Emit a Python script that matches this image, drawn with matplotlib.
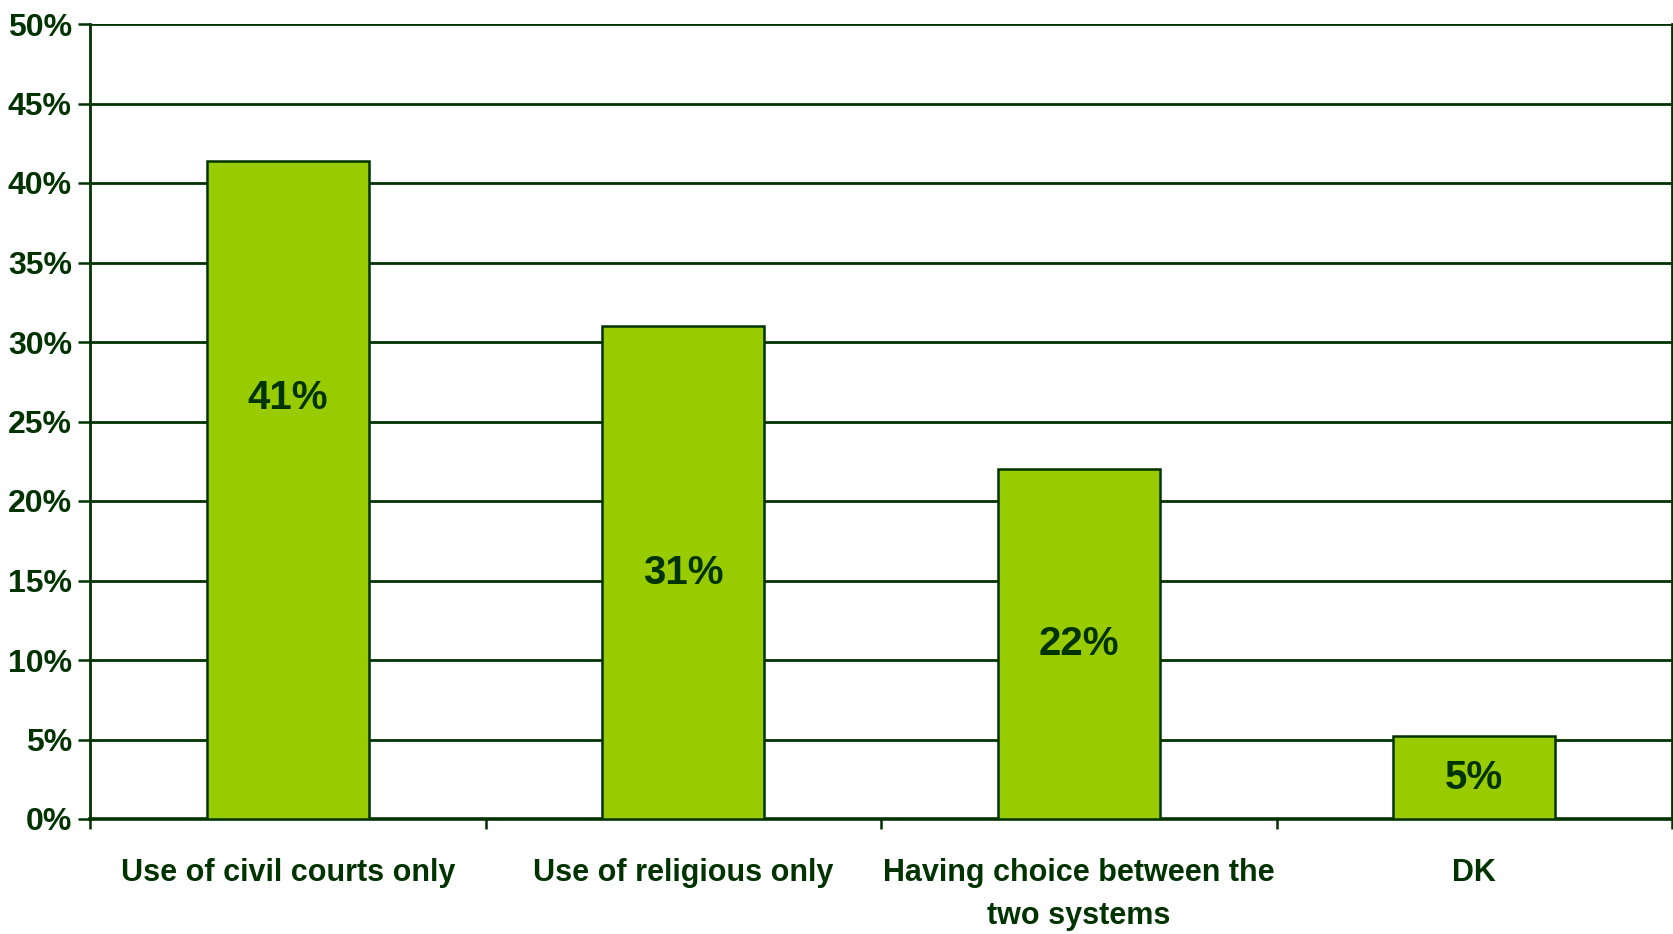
import matplotlib
matplotlib.use("Agg")
import matplotlib.pyplot as plt
import numpy as np

# chart data
categories = ["Use of civil courts only", "Use of religious only",
              "Having choice between the\ntwo systems", "DK"]
values = [41.4, 31.0, 22.0, 5.2]
value_labels = ["41%", "31%", "22%", "5%"]
y_ticks = [0, 5, 10, 15, 20, 25, 30, 35, 40, 45, 50]

DARK = "#003300"
BAR = "#99CC00"

plt.rcParams["font.family"] = ["Liberation Sans Narrow", "Liberation Sans", "DejaVu Sans"]
plt.rcParams["font.weight"] = "bold"

fig = plt.figure(figsize=(16.73, 9.34), dpi=100)
ax = fig.add_axes([90 / 1673, 1 - 819 / 934, (1672 - 90) / 1673, (819 - 24) / 934])

x = np.arange(len(categories))
ax.bar(x, values, width=0.41, color=BAR, edgecolor=DARK, linewidth=1.8, zorder=3)

# value labels sit around the middle of each bar (first one sits higher)
for i, (v, lab) in enumerate(zip(values, value_labels)):
    y = v / 2 if i > 0 else v * 0.64
    ax.text(i, y, lab, ha="center", va="center", fontsize=29,
            fontweight="bold", color=DARK, zorder=4)

ax.set_xlim(-0.5, len(categories) - 0.5)
ax.set_ylim(0, 50)
ax.set_yticks(y_ticks)
ax.set_yticklabels([f"{t}%" for t in y_ticks])
ax.yaxis.grid(True, color=DARK, linewidth=2.0, zorder=0)
ax.set_axisbelow(True)

# category labels centred, tick marks at the boundaries
ax.set_xticks(x)
ax.set_xticklabels(categories, linespacing=1.55)
ax.tick_params(axis="x", length=0, pad=28, labelsize=22, labelcolor=DARK)
ax.set_xticks(np.arange(len(categories) + 1) - 0.5, minor=True)
ax.tick_params(axis="x", which="minor", length=7, width=1.8, color=DARK, direction="out")
ax.tick_params(axis="y", length=9, width=1.8, color=DARK, pad=4,
               labelsize=23, labelcolor=DARK, direction="out")

for side in ["left", "bottom", "right"]:
    ax.spines[side].set_color(DARK)
    ax.spines[side].set_linewidth(2.0)
ax.spines["top"].set_visible(False)
ax.spines["bottom"].set_linewidth(2.6)

fig.savefig("out.png", dpi=100)
